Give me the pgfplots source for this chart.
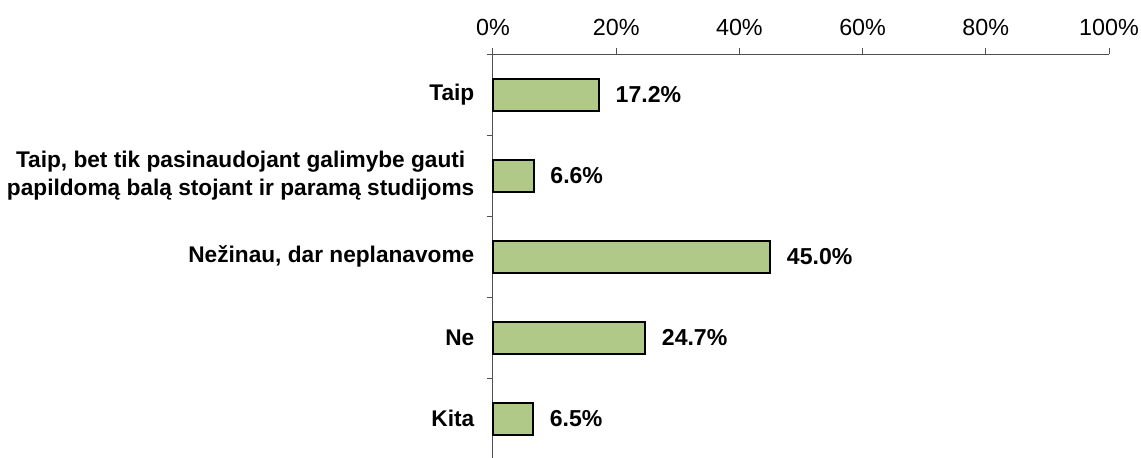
\documentclass[border=0pt]{standalone}
\usepackage{pgfplots}
\pgfplotsset{compat=1.18}
\usepackage{fontspec}
\setmainfont{Liberation Sans}
\definecolor{barg}{RGB}{176,201,137}
\definecolor{axc}{RGB}{80,80,80}
\begin{document}
\begin{tikzpicture}[x=0.75pt,y=0.75pt]
\useasboundingbox (-493,2) rectangle (648,459);
\begin{axis}[
  at={(0,0)}, anchor=south west,
  scale only axis, width=462pt, height=303.75pt,
  xmin=0, xmax=100, ymin=-0.5, ymax=4.5, y dir=reverse,
  axis x line=top, axis y line=left,
  axis line style={-, draw=axc, line width=0.75pt},
  tick style={draw=axc, line width=0.75pt},
  tick align=outside, major tick length=4.5pt,
  /pgf/number format/assume math mode=true,
  xtick={0,20,...,100},
  xticklabel={\pgfmathprintnumber{\tick}\%},
  xticklabel style={font=\fontsize{17.5}{20}\selectfont, yshift=5.5pt},
  ytick={-0.5,0.5,...,4.5}, yticklabels={},
  extra y ticks={0,1,2,3,4},
  extra y tick labels={Taip,{Taip, bet tik pasinaudojant galimybe gauti\\papildomą balą stojant ir paramą studijoms},{Nežinau, dar neplanavome},Ne,Kita},
  extra y tick style={major tick length=0pt, tick style={draw=none},
    yticklabel style={align=center, xshift=-10.5pt, font=\bfseries\fontsize{17}{20.5}\selectfont}},
  xbar, bar width=24pt,
  nodes near coords={\pgfmathprintnumber[fixed,fixed zerofill,precision=1,assume math mode=true]{\pgfplotspointmeta}\%},
  nodes near coords style={font=\bfseries\fontsize{17.3}{20}\selectfont, black, xshift=8.5pt},
  clip=false,
]
\addplot[fill=barg, draw=black, line width=1.5pt] coordinates {(17.2,0) (6.6,1) (45.0,2) (24.7,3) (6.5,4)};
\end{axis}
\end{tikzpicture}
\end{document}
